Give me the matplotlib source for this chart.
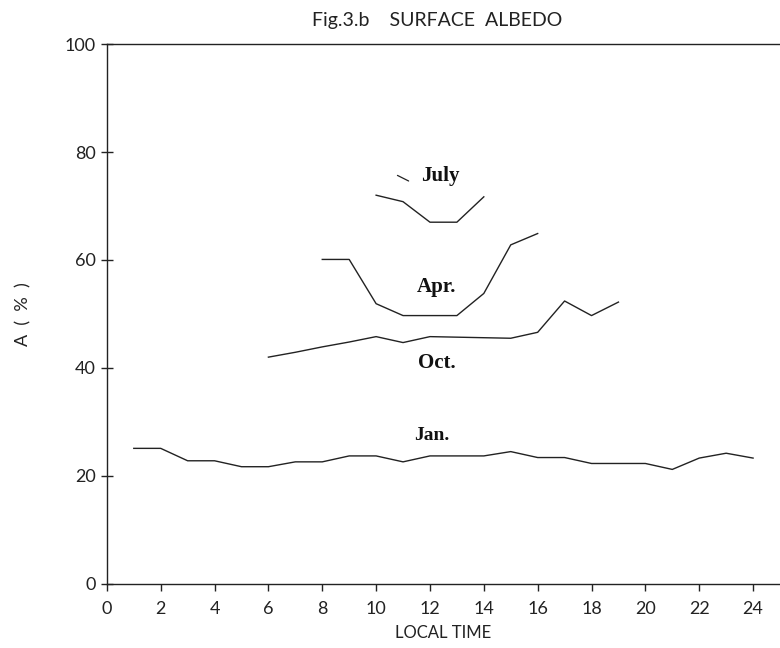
import matplotlib
matplotlib.use("Agg")
import matplotlib.pyplot as plt

# Data (local time hours, albedo %)
jan_t = list(range(1, 25))
jan_a = [25.1, 25.1, 22.8, 22.8, 21.7, 21.7, 22.6, 22.6, 23.7, 23.7, 22.6, 23.7,
         23.7, 23.7, 24.5, 23.4, 23.4, 22.3, 22.3, 22.3, 21.2, 23.3, 24.2, 23.3]
apr_t = [8, 9, 10, 11, 12, 13, 14, 15, 16]
apr_a = [60.1, 60.1, 51.9, 49.7, 49.7, 49.7, 53.8, 62.8, 64.9]
jul_t = [10, 11, 12, 13, 14]
jul_a = [72.0, 70.8, 67.0, 67.0, 71.7]
oct_t = [6, 7, 8, 9, 10, 11, 12, 13, 14, 15, 16, 17, 18, 19]
oct_a = [42.0, 42.9, 43.9, 44.8, 45.8, 44.7, 45.8, 45.7, 45.6, 45.5, 46.6, 52.4, 49.7, 52.2]

xticks = list(range(0, 25, 2))
yticks = [0, 20, 40, 60, 80, 100]

sans = ['Lato', 'DejaVu Sans']
serif = ['Liberation Serif', 'DejaVu Serif']

fig = plt.figure(figsize=(7.8, 6.48), dpi=100)
ax = fig.add_axes([0.137, 0.099, 0.863, 0.833])

lc = '#222222'
for t, a in [(jan_t, jan_a), (apr_t, apr_a), (jul_t, jul_a), (oct_t, oct_a)]:
    ax.plot(t, a, color=lc, lw=1.0)

ax.set_xlim(0, 25)
ax.set_ylim(0, 100)
ax.set_xticks(xticks)
ax.set_yticks(yticks)
ax.spines['right'].set_visible(False)
for s in ['left', 'top', 'bottom']:
    ax.spines[s].set_linewidth(1.0)
    ax.spines[s].set_color(lc)
ax.tick_params(axis='x', direction='out', length=5, width=1, labelsize=13, pad=7, colors=lc)
ax.tick_params(axis='y', direction='inout', length=8, width=1, labelsize=13, pad=4, colors=lc)
for lab in ax.get_xticklabels() + ax.get_yticklabels():
    lab.set_family(sans)
    lab.set_fontweight('normal')

ax.set_xlabel('LOCAL TIME', family=sans, fontsize=12, color=lc, labelpad=6)
ax.set_ylabel('A  (  %  )', family=sans, fontsize=13, color=lc, labelpad=24)
fig.text(0.56, 0.968, 'Fig.3.b    SURFACE  ALBEDO', family=sans,
         fontsize=14, color=lc, ha='center', va='center')

lab_kw = dict(family=serif, fontweight='bold', ha='center', va='center', color='#111111')
ax.text(12.4, 75.6, 'July', fontsize=15, **lab_kw)
ax.text(12.25, 55.0, 'Apr.', fontsize=15, **lab_kw)
ax.text(12.25, 41.0, 'Oct.', fontsize=15, **lab_kw)
ax.text(12.05, 27.4, 'Jan.', fontsize=14, **lab_kw)
ax.annotate('', xy=(11.3, 74.4), xytext=(10.7, 75.9),
            arrowprops=dict(arrowstyle='-', color=lc, lw=0.9))

fig.savefig('out.png', dpi=100)
